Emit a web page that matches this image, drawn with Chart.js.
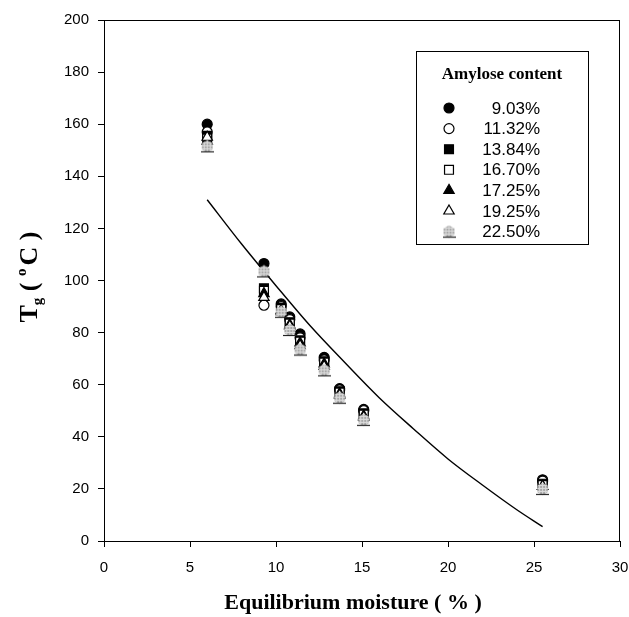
<!DOCTYPE html>
<html>
<head>
<meta charset="utf-8">
<script src="https://cdn.jsdelivr.net/npm/chart.js@4.4.1/dist/chart.umd.min.js"></script>
<style>
  html, body { margin: 0; padding: 0; background: #fff; }
  #wrap { width: 629px; height: 617px; position: relative; }
</style>
</head>
<body>
<div id="wrap"><canvas id="tgChart" width="629" height="617"></canvas></div>
<script>
// equilibrium moisture (%) for each measured cluster
const moisture = [6.0, 9.3, 10.3, 10.8, 11.4, 12.8, 13.7, 15.1, 25.5];

// Tg (°C) per amylose content
const tg903  = [160, 106.5, 91, 86, 79.5, 70.5, 58.5, 50.5, 23.5];
const tg1132 = [157, 90.5, 90, 85, 78, 69.5, 58, 50, 23];
const tg1384 = [155.5, 97, 89.5, 84, 77, 69, 57.5, 49, 22];
const tg1670 = [154.5, 96, 89, 83.5, 76.5, 68.5, 57, 48.5, 21.5];
const tg1725 = [153.5, 95, 88.5, 83, 76, 68, 56.5, 48, 21];
const tg1925 = [155, 93.5, 88, 82.5, 75, 67, 56, 47.5, 21];
const tg2250 = [151.5, 103.5, 88, 81, 73.5, 65.5, 55, 46.5, 20];

const seriesNames = ['9.03%', '11.32%', '13.84%', '16.70%', '17.25%', '19.25%', '22.50%'];

// fitted curve
const fitX = [6, 8, 10, 12, 14, 16, 18, 20, 22, 24, 25.5];
const fitY = [131, 114, 98, 82.5, 68.5, 55, 43, 31.5, 21.5, 12, 5.5];

const xTicks = [0, 5, 10, 15, 20, 25, 30];
const yTicks = [0, 20, 40, 60, 80, 100, 120, 140, 160, 180, 200];

// gray hexagon marker
function makeHex() {
    const c = document.createElement('canvas');
    c.width = 13; c.height = 14;
    const g = c.getContext('2d');
    const cx = 6.5, cy = 7, r = 6.2;
    g.beginPath();
    for (let i = 0; i < 6; i++) {
        const a = (-90 + i * 60) * Math.PI / 180;
        const px = cx + r * Math.cos(a), py = cy + r * Math.sin(a);
        if (i === 0) g.moveTo(px, py); else g.lineTo(px, py);
    }
    g.closePath();
    g.fillStyle = '#a8a8a8';
    g.fill();
    g.save();
    g.clip();
    g.strokeStyle = '#dcdcdc';
    g.lineWidth = 1;
    for (let k = 3; k < 13; k += 3) {
        g.beginPath(); g.moveTo(k + 0.5, 0); g.lineTo(k + 0.5, 14); g.stroke();
        g.beginPath(); g.moveTo(0, k + 0.5); g.lineTo(13, k + 0.5); g.stroke();
    }
    g.restore();
    g.strokeStyle = '#222';
    g.lineWidth = 1.2;
    g.stroke();
    return c;
}
const hexImg = makeHex();

const styles = [
    { pointStyle: 'circle', radius: 5, fill: '#000' },
    { pointStyle: 'circle', radius: 5, fill: '#fff' },
    { pointStyle: 'rect', radius: 6.3, fill: '#000' },
    { pointStyle: 'rect', radius: 6.3, fill: '#fff' },
    { pointStyle: 'triangle', radius: 6, fill: '#000' },
    { pointStyle: 'triangle', radius: 6, fill: '#fff' },
    { pointStyle: hexImg, radius: 6, fill: '#a8a8a8' }
];

const allSeries = [tg903, tg1132, tg1384, tg1670, tg1725, tg1925, tg2250];

const datasets = allSeries.map((vals, i) => ({
    type: 'scatter',
    label: seriesNames[i],
    data: moisture.map((m, j) => ({ x: m, y: vals[j] })),
    pointStyle: styles[i].pointStyle,
    pointRadius: styles[i].radius,
    pointBackgroundColor: styles[i].fill,
    pointBorderColor: '#000',
    pointBorderWidth: 1.2,
    order: 6 - i
}));

datasets.push({
    type: 'line',
    label: 'fit',
    data: fitX.map((x, i) => ({ x, y: fitY[i] })),
    borderColor: '#000',
    borderWidth: 1.4,
    pointRadius: 0,
    fill: false,
    cubicInterpolationMode: 'monotone',
    order: 10
});

function drawMarker(ctx, st, x, y) {
    ctx.save();
    ctx.fillStyle = st.fill;
    ctx.strokeStyle = '#000';
    ctx.lineWidth = 1.2;
    if (Chart.helpers && Chart.helpers.drawPoint) {
        Chart.helpers.drawPoint(ctx, { pointStyle: st.pointStyle, radius: st.radius, rotation: 0, borderWidth: 1.2 }, x, y);
    }
    ctx.restore();
}

function drawYTitle(ctx, cx, cy) {
    ctx.save();
    ctx.translate(cx, cy);
    ctx.rotate(-Math.PI / 2);
    const big = 'bold 26px "Liberation Serif", "Times New Roman", serif';
    const small = 'bold 15px "Liberation Serif", "Times New Roman", serif';
    const parts = [
        { t: 'T', f: big, dy: 0 },
        { t: 'g', f: small, dy: 5 },
        { t: ' ( ', f: big, dy: 0 },
        { t: 'o', f: small, dy: -11 },
        { t: '\u2009', f: small, dy: 0 },
        { t: 'C )', f: big, dy: 0 }
    ];
    let total = 0;
    parts.forEach(p => { ctx.font = p.f; p.w = ctx.measureText(p.t).width; total += p.w; });
    let x = -total / 2;
    ctx.fillStyle = '#000';
    ctx.textAlign = 'left';
    ctx.textBaseline = 'alphabetic';
    parts.forEach(p => { ctx.font = p.f; ctx.fillText(p.t, x, 10 + p.dy); x += p.w; });
    ctx.restore();
}

const decorPlugin = {
    id: 'decor',
    afterDraw(chart) {
        const { ctx, chartArea: a } = chart;
        ctx.save();
        ctx.strokeStyle = '#000';
        ctx.lineWidth = 1;
        ctx.strokeRect(a.left + 0.5, a.top + 0.5, a.right - a.left - 1, a.bottom - a.top);

        // legend box
        const bx = 416, by = 51, bw = 172, bh = 193;
        ctx.fillStyle = '#fff';
        ctx.fillRect(bx, by, bw, bh);
        ctx.strokeRect(bx + 0.5, by + 0.5, bw, bh);
        ctx.fillStyle = '#000';
        ctx.font = 'bold 17px "Liberation Serif", "Times New Roman", serif';
        ctx.textAlign = 'center';
        ctx.textBaseline = 'middle';
        ctx.fillText('Amylose content', bx + bw / 2, 75);
        ctx.font = '17px "Liberation Sans", Arial, sans-serif';
        ctx.textAlign = 'right';
        seriesNames.forEach((name, i) => {
            const y = 108 + i * 20.6;
            drawMarker(ctx, styles[i], 449, y);
            ctx.fillStyle = '#000';
            ctx.fillText(name, 540, y + 1);
        });

        // axis titles
        ctx.font = 'bold 22px "Liberation Serif", "Times New Roman", serif';
        ctx.textAlign = 'center';
        ctx.textBaseline = 'middle';
        ctx.fillText('Equilibrium moisture ( % )', 353, 603);
        drawYTitle(ctx, 27, 277);
        ctx.restore();
    }
};

const tickFont = { family: '"Liberation Sans", Arial, sans-serif', size: 15 };

new Chart(document.getElementById('tgChart'), {
    data: { datasets },
    options: {
        responsive: false,
        animation: false,
        layout: { padding: { left: 0, top: 20, right: 9, bottom: 0 } },
        plugins: { legend: { display: false }, tooltip: { enabled: false } },
        scales: {
            x: {
                type: 'linear',
                min: 0, max: 30,
                afterBuildTicks: s => { s.ticks = xTicks.map(v => ({ value: v })); },
                afterFit: s => { s.height = 76; s.paddingRight = 0; s.paddingLeft = 0; },
                ticks: { font: tickFont, color: '#000', padding: 12 },
                grid: { drawOnChartArea: false, drawTicks: true, tickLength: 6, tickColor: '#000', color: '#000' },
                border: { display: true, color: '#000', width: 1 }
            },
            y: {
                type: 'linear',
                min: 0, max: 200,
                afterBuildTicks: s => { s.ticks = yTicks.map(v => ({ value: v })); },
                afterFit: s => { s.width = 104; s.paddingTop = 0; s.paddingBottom = 0; },
                ticks: { font: tickFont, color: '#000', padding: 9 },
                grid: { drawOnChartArea: false, drawTicks: true, tickLength: 6, tickColor: '#000', color: '#000' },
                border: { display: true, color: '#000', width: 1 }
            }
        }
    },
    plugins: [decorPlugin]
});
</script>
</body>
</html>
